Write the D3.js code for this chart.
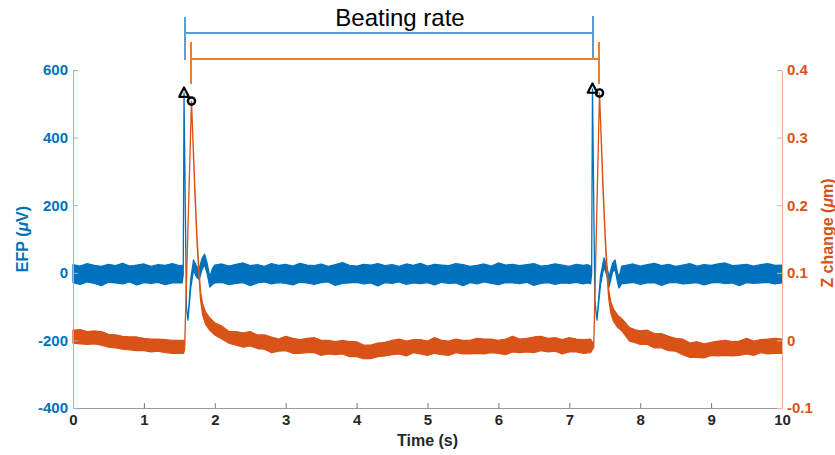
<!DOCTYPE html>
<html><head><meta charset="utf-8">
<script src="https://cdn.jsdelivr.net/npm/d3@7"></script>
<style>
html,body{margin:0;padding:0;background:#fff;}
svg{display:block;font-family:"Liberation Sans",Arial,sans-serif;}
</style></head><body>
<svg id="chart" width="835" height="455"></svg>
<script>
// ---------- DATA ----------
const xTicks = [0,1,2,3,4,5,6,7,8,9,10];
const efpTicks = [-400,-200,0,200,400,600];
const zTicks = [-0.1,0,0.1,0.2,0.3,0.4];

// EFP trace (µV), min/max envelope per sample time
const efpTime = [0.0,0.1,0.2,0.3,0.4,0.5,0.6,0.7,0.8,0.9,1.0,1.1,1.2,1.3,1.4,1.5,
 1.540,1.555,1.566,1.600,1.622,1.660,1.700,1.740,1.780,1.820,1.855,1.890,1.930,1.970,
 2.0,2.1,2.2,2.3,2.4,2.5,2.6,2.7,2.8,2.9,3.0,3.1,3.2,3.3,3.4,3.5,3.6,3.7,3.8,3.9,4.0,4.1,4.2,4.3,4.4,4.5,4.6,4.7,4.8,4.9,5.0,5.1,5.2,5.3,5.4,5.5,5.6,5.7,5.8,5.9,6.0,6.1,6.2,6.3,6.4,6.5,6.6,6.7,6.8,6.9,7.0,7.1,7.2,
 7.250,7.300,7.315,7.327,7.360,7.390,7.440,7.490,7.530,7.560,7.610,7.645,7.675,7.700,7.740,
 7.8,7.9,8.0,8.1,8.2,8.3,8.4,8.5,8.6,8.7,8.8,8.9,9.0,9.1,9.2,9.3,9.4,9.5,9.6,9.7,9.8,9.9,10.0];
const efpHigh = [24,20,27,22,19,25,21,28,20,23,26,19,24,22,27,21,
 22,4,532,-100,-140,-20,38,20,12,42,55,30,-12,14,
 23,26,20,25,29,21,24,19,27,22,25,20,28,23,21,26,19,24,30,22,20,25,23,27,21,24,19,26,22,28,20,25,23,21,27,24,19,22,26,20,29,23,25,21,24,27,20,22,26,23,19,25,22,
 24,20,3,544,-80,-140,-10,44,18,-12,28,38,5,-15,20,
 22,26,20,24,28,21,25,19,23,27,20,24,22,26,29,21,23,25,20,24,27,22,23];
const efpLow = [-29,-34,-27,-31,-38,-28,-30,-33,-27,-36,-29,-31,-28,-35,-30,-29,
 -30,-4,532,-100,-140,-45,8,-12,-20,10,24,0,-42,-34,
 -30,-28,-35,-31,-29,-38,-30,-27,-33,-29,-31,-36,-28,-30,-34,-29,-27,-37,-31,-30,-28,-33,-30,-39,-29,-31,-27,-34,-30,-32,-29,-36,-28,-31,-30,-38,-29,-33,-27,-31,-35,-29,-30,-32,-28,-37,-31,-29,-34,-30,-31,-28,-33,
 -30,-32,-3,544,-80,-140,-35,18,-8,-42,2,10,-22,-45,-32,
 -31,-28,-34,-30,-29,-37,-30,-28,-33,-31,-29,-36,-30,-28,-32,-30,-38,-29,-31,-30,-28,-33,-30];

// Z change trace (µm), min/max envelope per sample time
const zTime = [0.0,0.1,0.2,0.3,0.4,0.5,0.6,0.7,0.8,0.9,1.0,1.1,1.2,1.3,1.4,1.5,
 1.560,1.575,1.671,1.720,1.750,1.780,1.800,1.830,1.870,1.930,2.000,2.100,2.200,
 2.3,2.4,2.5,2.6,2.7,2.8,2.9,3.0,3.1,3.2,3.3,3.4,3.5,3.6,3.7,3.8,3.9,4.0,4.1,4.2,4.3,4.4,4.5,4.6,4.7,4.8,4.9,5.0,5.1,5.2,5.3,5.4,5.5,5.6,5.7,5.8,5.9,6.0,6.1,6.2,6.3,6.4,6.5,6.6,6.7,6.8,6.9,7.0,7.1,7.2,
 7.300,7.345,7.426,7.475,7.505,7.535,7.555,7.585,7.625,7.685,7.750,7.850,7.950,
 8.0,8.1,8.2,8.3,8.4,8.5,8.6,8.7,8.8,8.9,9.0,9.1,9.2,9.3,9.4,9.5,9.6,9.7,9.8,9.9,10.0];
const zHigh = [0.015,0.016,0.013,0.014,0.013,0.009,0.008,0.006,0.005,0.005,0.003,0.002,0.002,0.001,0.000,0.000,
 0.000,-0.008,0.354,0.222,0.151,0.100,0.071,0.053,0.042,0.033,0.026,0.021,0.013,
 0.013,0.011,0.013,0.008,0.008,0.005,0.002,0.006,0.003,0.001,0.003,0.004,0.000,0.000,-0.002,0.000,-0.002,-0.002,-0.007,-0.007,-0.004,-0.003,0.000,0.002,-0.001,0.001,0.001,-0.001,0.004,0.000,-0.001,0.002,0.000,0.000,0.003,0.002,0.002,0.000,0.002,0.006,0.002,0.003,0.005,0.006,0.003,0.004,0.001,0.004,0.002,0.001,
 0.002,-0.006,0.366,0.232,0.158,0.104,0.075,0.057,0.046,0.037,0.031,0.019,0.015,
 0.014,0.015,0.010,0.010,0.006,0.003,0.002,-0.004,-0.002,-0.005,-0.003,-0.001,0.000,-0.002,-0.001,0.003,-0.001,0.001,0.002,0.003,0.002];
const zLow = [-0.004,-0.005,-0.006,-0.005,-0.007,-0.010,-0.011,-0.013,-0.014,-0.015,-0.015,-0.017,-0.016,-0.018,-0.019,-0.019,
 -0.019,-0.012,0.354,0.214,0.145,0.090,0.059,0.037,0.024,0.015,0.008,0.002,-0.004,
 -0.007,-0.010,-0.008,-0.012,-0.013,-0.018,-0.016,-0.015,-0.019,-0.019,-0.018,-0.018,-0.022,-0.020,-0.021,-0.020,-0.024,-0.024,-0.027,-0.027,-0.024,-0.023,-0.021,-0.020,-0.023,-0.018,-0.020,-0.022,-0.019,-0.021,-0.022,-0.018,-0.020,-0.020,-0.019,-0.020,-0.018,-0.019,-0.021,-0.017,-0.018,-0.017,-0.018,-0.015,-0.017,-0.016,-0.020,-0.017,-0.017,-0.019,
 -0.018,-0.010,0.366,0.224,0.152,0.094,0.063,0.041,0.028,0.019,0.013,-0.001,-0.004,
 -0.006,-0.006,-0.011,-0.011,-0.015,-0.016,-0.021,-0.025,-0.025,-0.026,-0.022,-0.023,-0.022,-0.023,-0.022,-0.020,-0.022,-0.018,-0.020,-0.019,-0.019];

// detected peaks (triangle = EFP peak, circle = Z peak)
const efpPeakTime = [1.566, 7.327];
const efpPeakValue = [532, 544];
const zPeakTime = [1.671, 7.426];
const zPeakValue = [0.354, 0.366];

const titleText = "Beating rate";

// ---------- CHART ----------
const BLUE = "#0072BD", ORANGE = "#D95319";
const svg = d3.select("#chart");
const L = 73, R = 782, T = 70, B = 408;
const x = d3.scaleLinear().domain([0,10]).range([L,R]);
const yL = d3.scaleLinear().domain([-400,600]).range([B,T]);
const yR = d3.scaleLinear().domain([-0.1,0.4]).range([B,T]);

// traces
const efpData = efpTime.map((t,i)=>({t, lo:efpLow[i], hi:efpHigh[i]}));
const zData = zTime.map((t,i)=>({t, lo:zLow[i], hi:zHigh[i]}));
const efpArea = d3.area().x(d=>x(d.t)).y0(d=>yL(d.lo)).y1(d=>yL(d.hi));
const zArea = d3.area().x(d=>x(d.t)).y0(d=>yR(d.lo)).y1(d=>yR(d.hi));
svg.append("path").attr("d", efpArea(efpData)).attr("fill", BLUE)
  .attr("stroke", BLUE).attr("stroke-width", 1.3).attr("stroke-linejoin","round");
svg.append("path").attr("d", zArea(zData)).attr("fill", ORANGE)
  .attr("stroke", ORANGE).attr("stroke-width", 1.3).attr("stroke-linejoin","round");

// axes
const plain = d => String(+(+d).toFixed(1));   // ASCII hyphen minus, like the original
const fontCss = "font-family:'Liberation Sans',Arial,sans-serif;font-weight:bold;font-size:15px";
const gx = svg.append("g").attr("transform",`translate(0,${B})`)
  .call(d3.axisBottom(x).tickValues(xTicks).tickFormat(plain).tickSize(-5).tickSizeOuter(0).tickPadding(6));
gx.select(".domain").attr("stroke","#9a9a9a");
gx.selectAll(".tick line").attr("stroke","#7a7a7a");
gx.selectAll("text").attr("style",fontCss).attr("fill","#262626");

const gl = svg.append("g").attr("transform",`translate(${L},0)`)
  .call(d3.axisLeft(yL).tickValues(efpTicks).tickFormat(plain).tickSize(-5).tickSizeOuter(0).tickPadding(5));
gl.select(".domain").attr("stroke","#86b8e0");
gl.selectAll(".tick line").attr("stroke","#86b8e0");
gl.selectAll("text").attr("style",fontCss).attr("fill",BLUE);

const gr = svg.append("g").attr("transform",`translate(${R},0)`)
  .call(d3.axisRight(yR).tickValues(zTicks).tickFormat(plain).tickSize(-5).tickSizeOuter(0).tickPadding(5));
gr.select(".domain").attr("stroke","#eeac90");
gr.selectAll(".tick line").attr("stroke","#eeac90");
gr.selectAll("text").attr("style",fontCss).attr("fill",ORANGE);

// axis labels
const lab = "font-family:'Liberation Sans',Arial,sans-serif;font-weight:bold;font-size:16px";
const tl = svg.append("text").attr("transform",`translate(28,${(T+B)/2}) rotate(-90)`)
  .attr("text-anchor","middle").attr("style",lab).attr("fill",BLUE);
tl.append("tspan").text("EFP (");
tl.append("tspan").attr("font-style","italic").text("μ");
tl.append("tspan").text("V)");
const tr = svg.append("text").attr("transform",`translate(833,${(T+B)/2-6}) rotate(-90)`)
  .attr("text-anchor","middle").attr("style",lab).attr("fill",ORANGE);
tr.append("tspan").text("Z change (");
tr.append("tspan").attr("font-style","italic").text("μ");
tr.append("tspan").text("m)");
svg.append("text").attr("x",(L+R)/2).attr("y",446).attr("text-anchor","middle")
  .attr("style",lab).attr("fill","#262626").text("Time (s)");

// peak markers
svg.selectAll(".tri").data(efpPeakTime).join("path").attr("class","tri")
  .attr("transform",(d,i)=>`translate(${x(d)},${yL(efpPeakValue[i])})`)
  .attr("d","M0,-5.5L4.8,3.8L-4.8,3.8Z").attr("fill","none").attr("stroke","#000")
  .attr("stroke-width",2.2).attr("stroke-linejoin","round");
svg.selectAll(".cir").data(zPeakTime).join("circle").attr("class","cir")
  .attr("cx",d=>x(d)).attr("cy",(d,i)=>yR(zPeakValue[i])).attr("r",3.6)
  .attr("fill","none").attr("stroke","#000").attr("stroke-width",2.4);

// beating-rate brackets
const bb = svg.append("g").attr("stroke","#5B9BD5").attr("stroke-width",2).attr("fill","none");
const bx0 = x(efpPeakTime[0]) + 1, bx1 = x(efpPeakTime[1]) + 0.5;
bb.append("line").attr("x1",bx0).attr("x2",bx0).attr("y1",17).attr("y2",60);
bb.append("line").attr("x1",bx1).attr("x2",bx1).attr("y1",16).attr("y2",59);
bb.append("line").attr("x1",bx0).attr("x2",bx1).attr("y1",33).attr("y2",33);
const ob = svg.append("g").attr("stroke","#ED7D31").attr("stroke-width",2).attr("fill","none");
const ox0 = x(zPeakTime[0]) - 0.5, ox1 = x(zPeakTime[1]) - 0.5;
ob.append("line").attr("x1",ox0).attr("x2",ox0).attr("y1",42).attr("y2",84);
ob.append("line").attr("x1",ox1).attr("x2",ox1).attr("y1",42).attr("y2",84);
ob.append("line").attr("x1",ox0).attr("x2",ox1).attr("y1",59).attr("y2",59);

svg.append("text").attr("x",(bx0+bx1)/2 + 11).attr("y",26).attr("text-anchor","middle")
  .attr("style","font-family:'Liberation Sans',Arial,sans-serif;font-size:24px").attr("fill","#000")
  .text(titleText);
</script>
</body></html>
